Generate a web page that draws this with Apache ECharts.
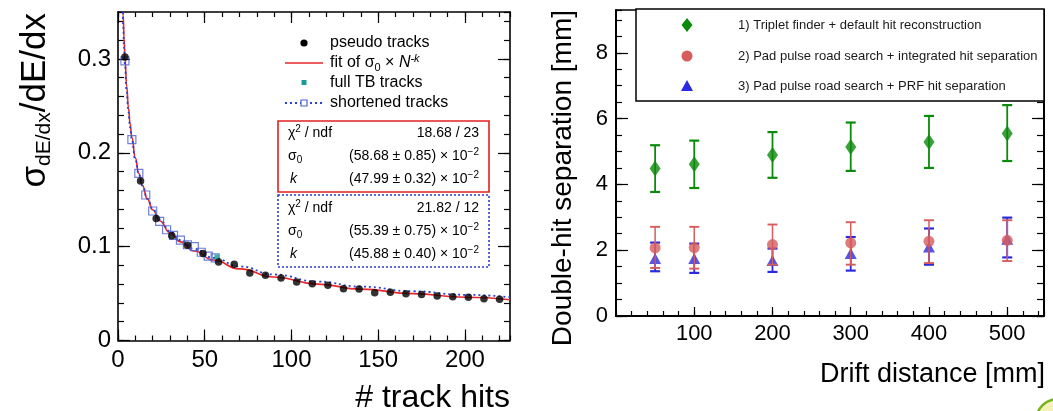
<!DOCTYPE html>
<html><head><meta charset="utf-8">
<script src="https://cdn.jsdelivr.net/npm/echarts@6/dist/echarts.min.js"></script>
<style>html,body{margin:0;padding:0;background:#fff}#c{width:1053px;height:411px}</style>
</head><body><div id="c"></div>
<script>
const FONT = '"Liberation Sans", Arial, Helvetica, sans-serif';

// ---------- Left panel data ----------
const hitsPseudo  = [4, 13, 22, 31, 40, 49, 58, 67, 76, 85, 94, 103, 112, 121, 130, 139, 148, 157, 166, 175, 184, 193, 202, 211, 220];
const sigmaPseudo = [0.302, 0.170, 0.130, 0.1115, 0.1015, 0.0926, 0.0837, 0.0812, 0.0719, 0.0694, 0.0666, 0.0623, 0.0605, 0.0588, 0.0552, 0.0548, 0.0509, 0.0513, 0.0499, 0.0491, 0.0474, 0.0467, 0.0460, 0.0445, 0.0440];
const hitsShort   = [4, 8, 12, 16, 20, 24, 28, 32, 36, 40, 44, 48, 52, 56];
const sigmaShort  = [0.298, 0.214, 0.178, 0.155, 0.138, 0.127, 0.118, 0.112, 0.107, 0.102, 0.100, 0.094, 0.090, 0.088];
const hitsFullTB  = [57];
const sigmaFullTB = [0.089];
const fitRedX  = [2.93, 3, 3.5, 4, 5, 6, 7, 8, 10, 12, 14, 17, 20, 24, 30, 36, 44, 55, 70, 90, 115, 140, 170, 200, 226];
const fitRedY  = [0.350, 0.3463, 0.3216, 0.3016, 0.2711, 0.2483, 0.2306, 0.2163, 0.1943, 0.1780, 0.1653, 0.1506, 0.1393, 0.1276, 0.1147, 0.1051, 0.0954, 0.0857, 0.0763, 0.0677, 0.0601, 0.0547, 0.0499, 0.0461, 0.0435];
const fitBlueX = [2.72, 3, 3.5, 4, 5, 6, 7, 8, 10, 12, 14, 17, 20, 24, 30, 36, 44, 55, 70, 90, 115, 140, 170, 200, 226];
const fitBlueY = [0.350, 0.3346, 0.3117, 0.2932, 0.2647, 0.2434, 0.2268, 0.2134, 0.1926, 0.1771, 0.1651, 0.1510, 0.1401, 0.1289, 0.1163, 0.1070, 0.0976, 0.0881, 0.0789, 0.0703, 0.0628, 0.0574, 0.0525, 0.0487, 0.0461];
const leftXTicks = [0, 50, 100, 150, 200];
const leftYTicks = [0, 0.1, 0.2, 0.3];

// ---------- Right panel data ----------
const drift        = [50, 100, 200, 300, 400, 500];
const tripletVal   = [4.48, 4.61, 4.89, 5.14, 5.29, 5.55];
const tripletLo    = [3.77, 3.89, 4.20, 4.41, 4.50, 4.71];
const tripletHi    = [5.19, 5.33, 5.59, 5.88, 6.08, 6.41];
const integVal     = [2.07, 2.08, 2.17, 2.22, 2.27, 2.30];
const integLo      = [1.46, 1.44, 1.56, 1.56, 1.61, 1.67];
const integHi      = [2.71, 2.71, 2.78, 2.85, 2.91, 2.91];
const prfVal       = [1.75, 1.75, 1.69, 1.90, 2.10, 2.33];
const prfLo        = [1.36, 1.31, 1.34, 1.38, 1.56, 1.78];
const prfHi        = [2.23, 2.20, 2.05, 2.40, 2.66, 2.99];
const rightXTicks  = [100, 200, 300, 400, 500];
const rightYTicks  = [0, 2, 4, 6, 8];
const legendLabels = ['1) Triplet finder + default hit reconstruction', '2) Pad pulse road search + integrated hit separation', '3) Pad pulse road search + PRF hit separation'];

const GREEN = '#0b8a0b', RED = '#d65c5e', BLUE = '#2a2ae0';

function ax(o) {
  return Object.assign({
    type: 'value', splitLine: { show: false },
    axisLine: { show: true, onZero: false, lineStyle: { color: '#000', width: 1.6 } },
    axisTick: { show: true, inside: true, length: 10, lineStyle: { color: '#000', width: 1.2 } },
    axisLabel: { show: false }, minorTick: { show: false }
  }, o);
}
function tick(len, vals) { const t = { show: true, inside: true, length: len, lineStyle: { color: '#000', width: 1.2 } }; if (vals) t.customValues = vals; return t; }
function lbl(size, vals, margin) { return { show: true, fontSize: size, fontFamily: FONT, color: '#000', margin: margin, customValues: vals }; }

const xAxes = [
  // left grid
  ax({ gridIndex: 0, position: 'bottom', min: 0, max: 226, interval: 50, axisTick: tick(11, leftXTicks), axisLabel: lbl(24, leftXTicks, 8) }),
  ax({ gridIndex: 0, position: 'bottom', min: 0, max: 226, interval: 10, axisTick: tick(5), axisLine: { show: false, onZero: false } }),
  ax({ gridIndex: 0, position: 'top', min: 0, max: 226, interval: 50, axisTick: tick(11, leftXTicks) }),
  ax({ gridIndex: 0, position: 'top', min: 0, max: 226, interval: 10, axisTick: tick(5), axisLine: { show: false, onZero: false } }),
  // right grid
  ax({ gridIndex: 1, position: 'bottom', min: 0, max: 547, interval: 100, axisTick: tick(9, rightXTicks), axisLabel: lbl(22, rightXTicks, 7), axisLine: { show: true, onZero: false, lineStyle: { color: '#000', width: 2 } } }),
  ax({ gridIndex: 1, position: 'bottom', min: 0, max: 547, interval: 20, axisTick: tick(5), axisLine: { show: false, onZero: false } }),
  ax({ gridIndex: 1, position: 'top', min: 0, max: 547, interval: 100, axisTick: tick(9, rightXTicks) })
];
const yAxes = [
  ax({ gridIndex: 0, position: 'left', min: 0, max: 0.35, interval: 0.1, axisTick: tick(12, leftYTicks), axisLabel: lbl(24, leftYTicks, 7) }),
  ax({ gridIndex: 0, position: 'left', min: 0, max: 0.35, interval: 0.02, axisTick: tick(6), axisLine: { show: false, onZero: false } }),
  ax({ gridIndex: 0, position: 'right', min: 0, max: 0.35, interval: 0.1, axisTick: tick(12, leftYTicks) }),
  ax({ gridIndex: 0, position: 'right', min: 0, max: 0.35, interval: 0.02, axisTick: tick(6), axisLine: { show: false, onZero: false } }),
  ax({ gridIndex: 1, position: 'left', min: 0, max: 9.3, interval: 2, axisTick: tick(12, rightYTicks), axisLabel: lbl(22, rightYTicks, 8), axisLine: { show: true, onZero: false, lineStyle: { color: '#000', width: 2 } } }),
  ax({ gridIndex: 1, position: 'left', min: 0, max: 9.3, interval: 0.5, axisTick: tick(6), axisLine: { show: false, onZero: false } }),
  ax({ gridIndex: 1, position: 'right', min: 0, max: 9.3, interval: 2, axisTick: tick(12, rightYTicks), axisLine: { show: true, onZero: false, lineStyle: { color: '#000', width: 2 } } }),
  ax({ gridIndex: 1, position: 'right', min: 0, max: 9.3, interval: 0.5, axisTick: tick(7), axisLine: { show: false, onZero: false } })
];

function zip(a, b) { return a.map((v, i) => [v, b[i]]); }
function zip3(a, b, c) { return a.map((v, i) => [v, b[i], c[i]]); }

function errSeries(x, lo, hi, color, lw, capW, z) {
  return {
    type: 'custom', xAxisIndex: 4, yAxisIndex: 4, z: z, silent: true,
    encode: { x: 0, y: [1, 2] },
    data: zip3(x, lo, hi),
    renderItem: function (params, api) {
      const p1 = api.coord([api.value(0), api.value(1)]);
      const p2 = api.coord([api.value(0), api.value(2)]);
      const st = { stroke: color, lineWidth: lw };
      return { type: 'group', children: [
        { type: 'line', shape: { x1: p1[0], y1: p1[1], x2: p2[0], y2: p2[1] }, style: st },
        { type: 'line', shape: { x1: p1[0] - capW / 2, y1: p1[1], x2: p1[0] + capW / 2, y2: p1[1] }, style: { stroke: color, lineWidth: lw + 0.4 } },
        { type: 'line', shape: { x1: p2[0] - capW / 2, y1: p2[1], x2: p2[0] + capW / 2, y2: p2[1] }, style: { stroke: color, lineWidth: lw + 0.4 } }
      ] };
    }
  };
}

const series = [
  { type: 'line', xAxisIndex: 0, yAxisIndex: 0, data: zip(fitRedX, fitRedY), showSymbol: false, smooth: true, smoothMonotone: 'x', lineStyle: { color: '#e8262b', width: 1.6 }, z: 2 },
  { type: 'line', xAxisIndex: 0, yAxisIndex: 0, data: zip(fitBlueX, fitBlueY), showSymbol: false, smooth: true, smoothMonotone: 'x', lineStyle: { color: '#2b3fd0', width: 1.8, type: [2, 3] }, z: 3 },
  { type: 'scatter', xAxisIndex: 0, yAxisIndex: 0, data: zip(hitsShort, sigmaShort), symbol: 'rect', symbolSize: 8, itemStyle: { color: 'rgba(255,255,255,0)', borderColor: '#4a62d0', borderWidth: 1.2 }, z: 4 },
  { type: 'scatter', xAxisIndex: 0, yAxisIndex: 0, data: zip(hitsFullTB, sigmaFullTB), symbol: 'rect', symbolSize: 5, itemStyle: { color: '#199c96' }, z: 5 },
  { type: 'scatter', xAxisIndex: 0, yAxisIndex: 0, data: zip(hitsPseudo, sigmaPseudo), symbol: 'circle', symbolSize: 7.5, itemStyle: { color: '#000' }, z: 6 },

  errSeries(drift, tripletLo, tripletHi, GREEN, 1.8, 10, 2),
  { type: 'scatter', xAxisIndex: 4, yAxisIndex: 4, data: zip(drift, tripletVal), symbol: 'diamond', symbolSize: [11, 16], itemStyle: { color: GREEN }, z: 3 },
  errSeries(drift, prfLo, prfHi, BLUE, 1.8, 10, 4),
  { type: 'scatter', xAxisIndex: 4, yAxisIndex: 4, data: zip(drift, prfVal), symbol: 'triangle', symbolSize: [12, 11], itemStyle: { color: BLUE }, z: 5 },
  errSeries(drift, integLo, integHi, RED, 1.5, 10, 6),
  { type: 'scatter', xAxisIndex: 4, yAxisIndex: 4, data: zip(drift, integVal), symbol: 'circle', symbolSize: 11, itemStyle: { color: RED }, z: 7 }
];

// ---------- graphics (titles, legends, stat boxes) ----------
function txt(x, y, text, o) {
  return Object.assign({ type: 'text', x: x, y: y, z: 100, style: Object.assign({ text: text, fontFamily: FONT, fill: '#000', align: 'left', verticalAlign: 'middle' }, o || {}) });
}
function richSet(fs, lh) {
  return {
    t: { fontSize: fs, lineHeight: lh, fontFamily: FONT, fill: '#000' },
    it: { fontSize: fs, lineHeight: lh, fontFamily: FONT, fontStyle: 'italic', fill: '#000' },
    sub: { fontSize: Math.round(fs * 0.68), lineHeight: Math.round(lh * 0.4), verticalAlign: 'bottom', fontFamily: FONT, fill: '#000' },
    sup: { fontSize: Math.round(fs * 0.68), lineHeight: Math.round(lh * 0.4), verticalAlign: 'top', fontFamily: FONT, fill: '#000' },
    supi: { fontSize: Math.round(fs * 0.68), lineHeight: Math.round(lh * 0.4), verticalAlign: 'top', fontStyle: 'italic', fontFamily: FONT, fill: '#000' }
  };
}
const R16 = richSet(16, 20), R14 = richSet(14, 18);

const graphics = [
  // left axis titles
  { type: 'text', x: 35, y: 13, rotation: Math.PI / 2, z: 100, style: { text: '{a|σ}{b|dE/dx}{a|/dE/dx}', align: 'right', verticalAlign: 'middle',
      rich: { a: { fontSize: 35, lineHeight: 40, fontFamily: FONT, fill: '#000' }, b: { fontSize: 21, lineHeight: 20, verticalAlign: 'bottom', fontFamily: FONT, fill: '#000' } } } },
  txt(510, 398, '# track hits', { fontSize: 32, align: 'right' }),

  // left legend
  { type: 'circle', z: 100, shape: { cx: 304, cy: 43, r: 3.6 }, style: { fill: '#000' } },
  txt(330, 43, 'pseudo tracks', { fontSize: 16 }),
  { type: 'line', z: 100, shape: { x1: 285, y1: 63, x2: 323, y2: 63 }, style: { stroke: '#e8262b', lineWidth: 1.6 } },
  txt(330, 63, '{t|fit of σ}{sub|0}{t| × }{it|N}{supi|-k}', { rich: R16 }),
  { type: 'rect', z: 100, shape: { x: 301.5, y: 80, width: 5, height: 5 }, style: { fill: '#199c96' } },
  txt(330, 83, 'full TB tracks', { fontSize: 16 }),
  { type: 'line', z: 100, shape: { x1: 285, y1: 103, x2: 323, y2: 103 }, style: { stroke: '#2b3fd0', lineWidth: 1.8, lineDash: [2, 3] } },
  { type: 'rect', z: 101, shape: { x: 301, y: 100, width: 6, height: 6 }, style: { fill: '#fff', stroke: '#4a62d0', lineWidth: 1.2 } },
  txt(330, 103, 'shortened tracks', { fontSize: 16 }),

  // stat box 1 (red)
  { type: 'rect', z: 99, shape: { x: 278, y: 121, width: 211, height: 71 }, style: { fill: '#fff', stroke: '#e32020', lineWidth: 1.6 } },
  txt(288, 133, '{t|χ}{sup|2}{t| / ndf}', { rich: R14 }),
  txt(479, 133, '18.68 / 23', { fontSize: 14, align: 'right' }),
  txt(288, 156, '{t|σ}{sub|0}', { rich: R14 }),
  txt(479, 156, '{t|(58.68 ± 0.85) × 10}{sup|−2}', { rich: R14, align: 'right' }),
  txt(290, 179, '{it|k}', { rich: R14 }),
  txt(479, 179, '{t|(47.99 ± 0.32) × 10}{sup|−2}', { rich: R14, align: 'right' }),

  // stat box 2 (blue dotted)
  { type: 'rect', z: 99, shape: { x: 278, y: 195, width: 211, height: 72 }, style: { fill: '#fff', stroke: '#2b3fd0', lineWidth: 1.6, lineDash: [2, 2] } },
  txt(288, 208, '{t|χ}{sup|2}{t| / ndf}', { rich: R14 }),
  txt(479, 208, '21.82 / 12', { fontSize: 14, align: 'right' }),
  txt(288, 231, '{t|σ}{sub|0}', { rich: R14 }),
  txt(479, 231, '{t|(55.39 ± 0.75) × 10}{sup|−2}', { rich: R14, align: 'right' }),
  txt(290, 254, '{it|k}', { rich: R14 }),
  txt(479, 254, '{t|(45.88 ± 0.40) × 10}{sup|−2}', { rich: R14, align: 'right' }),

  // right axis titles
  { type: 'text', x: 563, y: 10, rotation: Math.PI / 2, z: 100, style: { text: 'Double-hit separation [mm]', fontSize: 28, fontFamily: FONT, fill: '#000', align: 'right', verticalAlign: 'middle' } },
  txt(1045, 375, 'Drift distance [mm]', { fontSize: 27, align: 'right' }),

  // right legend box
  { type: 'rect', z: 99, shape: { x: 636, y: 9, width: 408, height: 92 }, style: { fill: '#fff', stroke: '#000', lineWidth: 1.5 } },
  { type: 'polygon', z: 100, shape: { points: [[687, 18], [692.5, 25], [687, 32], [681.5, 25]] }, style: { fill: GREEN } },
  txt(738, 25, legendLabels[0], { fontSize: 13, fill: '#1a1a1a' }),
  { type: 'circle', z: 100, shape: { cx: 687, cy: 56, r: 5.5 }, style: { fill: RED } },
  txt(738, 56, legendLabels[1], { fontSize: 13, fill: '#1a1a1a' }),
  { type: 'polygon', z: 100, shape: { points: [[687, 80], [693, 91], [681, 91]] }, style: { fill: BLUE } },
  txt(738, 86, legendLabels[2], { fontSize: 13, fill: '#1a1a1a' }),

  // corner logo fragment
  { type: 'circle', z: 100, shape: { cx: 1058, cy: 421, r: 22 }, style: { fill: '#f4f1b8', stroke: '#78b21e', lineWidth: 2.5 } }
];

const chart = echarts.init(document.getElementById('c'), null, { renderer: 'canvas' });
chart.setOption({
  animation: false,
  backgroundColor: '#fff',
  grid: [
    { left: 118, top: 12, width: 392, height: 328.5 },
    { left: 616, top: 10, width: 428, height: 306 }
  ],
  xAxis: xAxes,
  yAxis: yAxes,
  series: series,
  graphic: graphics
});
</script>
</body></html>
